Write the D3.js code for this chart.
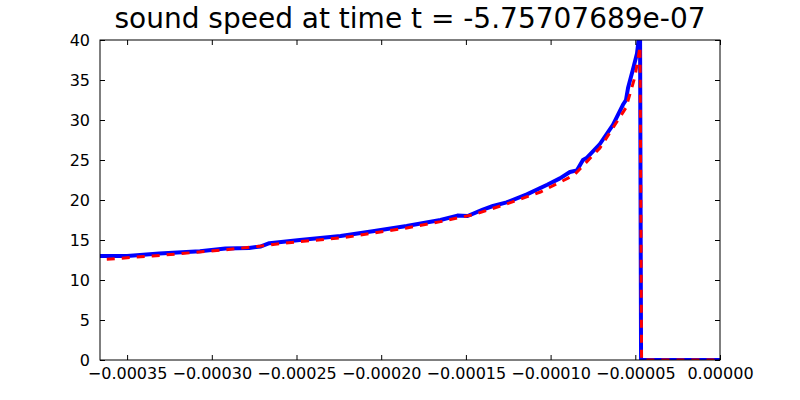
<!DOCTYPE html>
<html>
<head>
<meta charset="utf-8">
<script src="https://cdn.jsdelivr.net/npm/d3@7"></script>
<style>
  body { margin: 0; background: #fff; }
  svg { font-family: "DejaVu Sans", sans-serif; }
</style>
</head>
<body>
<svg width="800" height="400"></svg>
<script>
// sound speed profiles, x in seconds-ish units as on the axis
const blueX = [-0.000366, -0.000350, -0.000331, -0.000307, -0.000292, -0.000278, -0.000271, -0.000266,
  -0.000248, -0.000224, -0.000205, -0.000185, -0.000165, -0.000155, -0.000149, -0.000140, -0.000134,
  -0.000126, -0.000114, -0.000102, -0.0000945, -0.0000886, -0.0000845, -0.0000809, -0.0000785,
  -0.0000709, -0.0000632, -0.0000573, -0.0000555, -0.0000543, -0.0000514, -0.0000490, -0.0000472,
  -0.0000466, 0];
const blueY = [13.0, 13.0, 13.3, 13.6, 13.95, 14.0, 14.2, 14.6,
  15.0, 15.5, 16.1, 16.75, 17.5, 18.05, 18.0, 18.8, 19.25,
  19.7, 20.7, 21.9, 22.7, 23.5, 23.7, 25.0, 25.3,
  27.0, 29.4, 31.9, 32.5, 34.0, 36.3, 38.3, 41.5,
  0, 0];

const redX = [-0.000362, -0.000335, -0.000293, -0.000273, -0.000253, -0.000222, -0.000185, -0.000165,
  -0.000145, -0.000126, -0.000106, -0.0000862, -0.0000709, -0.0000556, -0.0000502, -0.0000472,
  -0.0000463, 0];
const redY = [12.6, 13.0, 13.75, 14.2, 14.7, 15.3, 16.5, 17.3,
  18.2, 19.5, 21.0, 23.1, 26.5, 31.5, 35.4, 39.2,
  0, 0];

const xTicks = [-0.00035, -0.00030, -0.00025, -0.00020, -0.00015, -0.00010, -0.00005, 0];
const yTicks = [0, 5, 10, 15, 20, 25, 30, 35, 40];

const titleText = 'sound speed at time t = -5.75707689e-07';

const m = { left: 100, right: 720, top: 40, bottom: 360 };

const x = d3.scaleLinear().domain([-0.000366, 0]).range([m.left, m.right]);
const y = d3.scaleLinear().domain([0, 40]).range([m.bottom, m.top]);

const svg = d3.select('svg');

svg.append('clipPath').attr('id', 'clip')
  .append('rect')
  .attr('x', m.left).attr('y', m.top)
  .attr('width', m.right - m.left).attr('height', m.bottom - m.top);

const line = d3.line()
  .x(d => x(d[0]))
  .y(d => y(d[1]));

const plot = svg.append('g').attr('clip-path', 'url(#clip)');

plot.append('path')
  .datum(d3.zip(blueX, blueY))
  .attr('d', line)
  .attr('fill', 'none')
  .attr('stroke', '#0000ff')
  .attr('stroke-width', 4)
  .attr('stroke-linejoin', 'round');

plot.append('path')
  .datum(d3.zip(redX, redY))
  .attr('d', line)
  .attr('fill', 'none')
  .attr('stroke', '#ff0000')
  .attr('stroke-width', 3)
  .attr('stroke-dasharray', '8,7');

// axes (ticks inward, matplotlib classic)
const fmtX = d3.format('.5f');
const tickLen = 5;

const xBottom = d3.axisBottom(x).tickValues(xTicks).tickSize(-tickLen).tickPadding(8)
  .tickFormat(fmtX);
const gx = svg.append('g').attr('transform', `translate(0,${m.bottom})`).call(xBottom);

const xTop = d3.axisTop(x).tickValues(xTicks).tickSize(-tickLen).tickFormat('');
const gxt = svg.append('g').attr('transform', `translate(0,${m.top})`).call(xTop);

const yLeft = d3.axisLeft(y).tickValues(yTicks).tickSize(-tickLen).tickPadding(10);
const gy = svg.append('g').attr('transform', `translate(${m.left},0)`).call(yLeft);

const yRight = d3.axisRight(y).tickValues(yTicks).tickSize(-tickLen).tickFormat('');
const gyr = svg.append('g').attr('transform', `translate(${m.right},0)`).call(yRight);

[gx, gxt, gy, gyr].forEach(g => {
  g.select('.domain').remove();
  g.selectAll('line').attr('stroke', '#000');
  g.selectAll('text').attr('font-size', 16).attr('fill', '#000')
    .attr('font-family', '"DejaVu Sans", sans-serif');
});

svg.append('rect')
  .attr('x', m.left).attr('y', m.top)
  .attr('width', m.right - m.left).attr('height', m.bottom - m.top)
  .attr('fill', 'none').attr('stroke', '#000').attr('stroke-width', 1);

svg.append('text')
  .attr('x', (m.left + m.right) / 2)
  .attr('y', 28)
  .attr('text-anchor', 'middle')
  .attr('font-size', 28)
  .text(titleText);
</script>
</body>
</html>
